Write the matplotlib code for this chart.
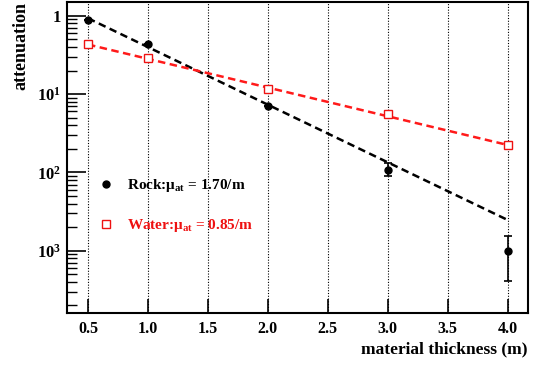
import numpy as np
import matplotlib
matplotlib.use('Agg')
import matplotlib.pyplot as plt
from matplotlib.lines import Line2D
from matplotlib.ticker import FixedLocator, LogLocator, NullFormatter

plt.rcParams['font.family'] = ['Liberation Serif', 'DejaVu Serif']
plt.rcParams['font.weight'] = 'bold'
plt.rcParams['mathtext.fontset'] = 'custom'
plt.rcParams['mathtext.rm'] = 'Liberation Serif:bold'
plt.rcParams['mathtext.bf'] = 'Liberation Serif:bold'
plt.rcParams['mathtext.it'] = 'Liberation Serif:bold'

# measured points
thickness = [0.5, 1.0, 2.0, 3.0, 4.0]
rock = [0.89, 0.44, 0.071, 0.0108, 0.0010]
rock_err_lo = [0.0, 0.0, 0.0, 0.0017, 0.00059]
rock_err_hi = [0.0, 0.0, 0.0, 0.0025, 0.00055]
water = [0.43, 0.285, 0.116, 0.0556, 0.0222]
water_err = [0.0, 0.0, 0.0, 0.0, 0.0012]

# fitted exponentials (end points)
fit_x = [0.5, 4.0]
rock_fit = [0.93, 0.00247]
water_fit = [0.43, 0.0224]

rock_label = r'Rock:$\mu_{at}$ = 1.70/m'
water_label = r'Water:$\mu_{at}$ = 0.85/m'
xticks = [0.5, 1.0, 1.5, 2.0, 2.5, 3.0, 3.5, 4.0]
yticks = [1, 0.1, 0.01, 0.001]
ytick_labels = ['1', r'$10^{1}$', r'$10^{2}$', r'$10^{3}$']

red = '#ee1111'

fig = plt.figure(figsize=(5.36, 3.65), dpi=100)
ax = fig.add_axes([0.125, 0.1425, 0.86, 0.852])

for x in xticks:
    ax.axvline(x, color='black', lw=0.8, ls=(0, (1, 1.5)), zorder=0)

ax.plot(fit_x, rock_fit, color='black', lw=1.8, ls=(0, (3, 1.8)), zorder=2)
ax.plot(fit_x, water_fit, color='#ff1a1a', lw=1.8, ls=(0, (3, 1.8)), zorder=2)

ax.errorbar(thickness, rock, yerr=[rock_err_lo, rock_err_hi], fmt='o', color='black',
            ms=5, capsize=3, elinewidth=1.2, capthick=1.2, zorder=3)
ax.errorbar(thickness, water, yerr=water_err, fmt='s', color=red, mfc='white',
            ms=6, mew=1.0, capsize=3, elinewidth=1.0, zorder=3)

ax.set_yscale('log')
ax.set_xlim(0.325, 4.17)
ax.set_ylim(1.6e-4, 1.5)

ax.set_xticks(xticks)
ax.set_xticklabels(['%.1f' % x for x in xticks], fontsize=11.5, fontweight='bold')
ax.yaxis.set_major_locator(FixedLocator(yticks))
ax.set_yticklabels(ytick_labels, fontsize=12)
ax.yaxis.set_minor_locator(LogLocator(base=10, subs=np.arange(2, 10)))
ax.yaxis.set_minor_formatter(NullFormatter())

ax.tick_params(axis='x', which='major', direction='in', length=10, width=1.2, pad=6)
ax.tick_params(axis='y', which='major', direction='in', length=14, width=1.2, pad=4)
ax.tick_params(axis='y', which='minor', direction='in', length=7, width=1.0)
for s in ax.spines.values():
    s.set_linewidth(1.5)

ax.set_xlabel('material thickness (m)', fontsize=12.5, fontweight='bold', loc='right', labelpad=3)
ax.set_ylabel('attenuation', fontsize=13, fontweight='bold', loc='top', labelpad=6)

handles = [Line2D([], [], ls='none', marker='o', color='black', ms=5),
           Line2D([], [], ls='none', marker='s', color=red, mfc='white', ms=6, mew=1.0)]
leg = ax.legend(handles, [rock_label, water_label], loc='upper left',
                bbox_to_anchor=(0.038, 0.48), frameon=False, fontsize=11,
                handlelength=1.0, handletextpad=0.9, labelspacing=1.5)
leg.get_texts()[1].set_color(red)

fig.savefig('out.png', dpi=100)
